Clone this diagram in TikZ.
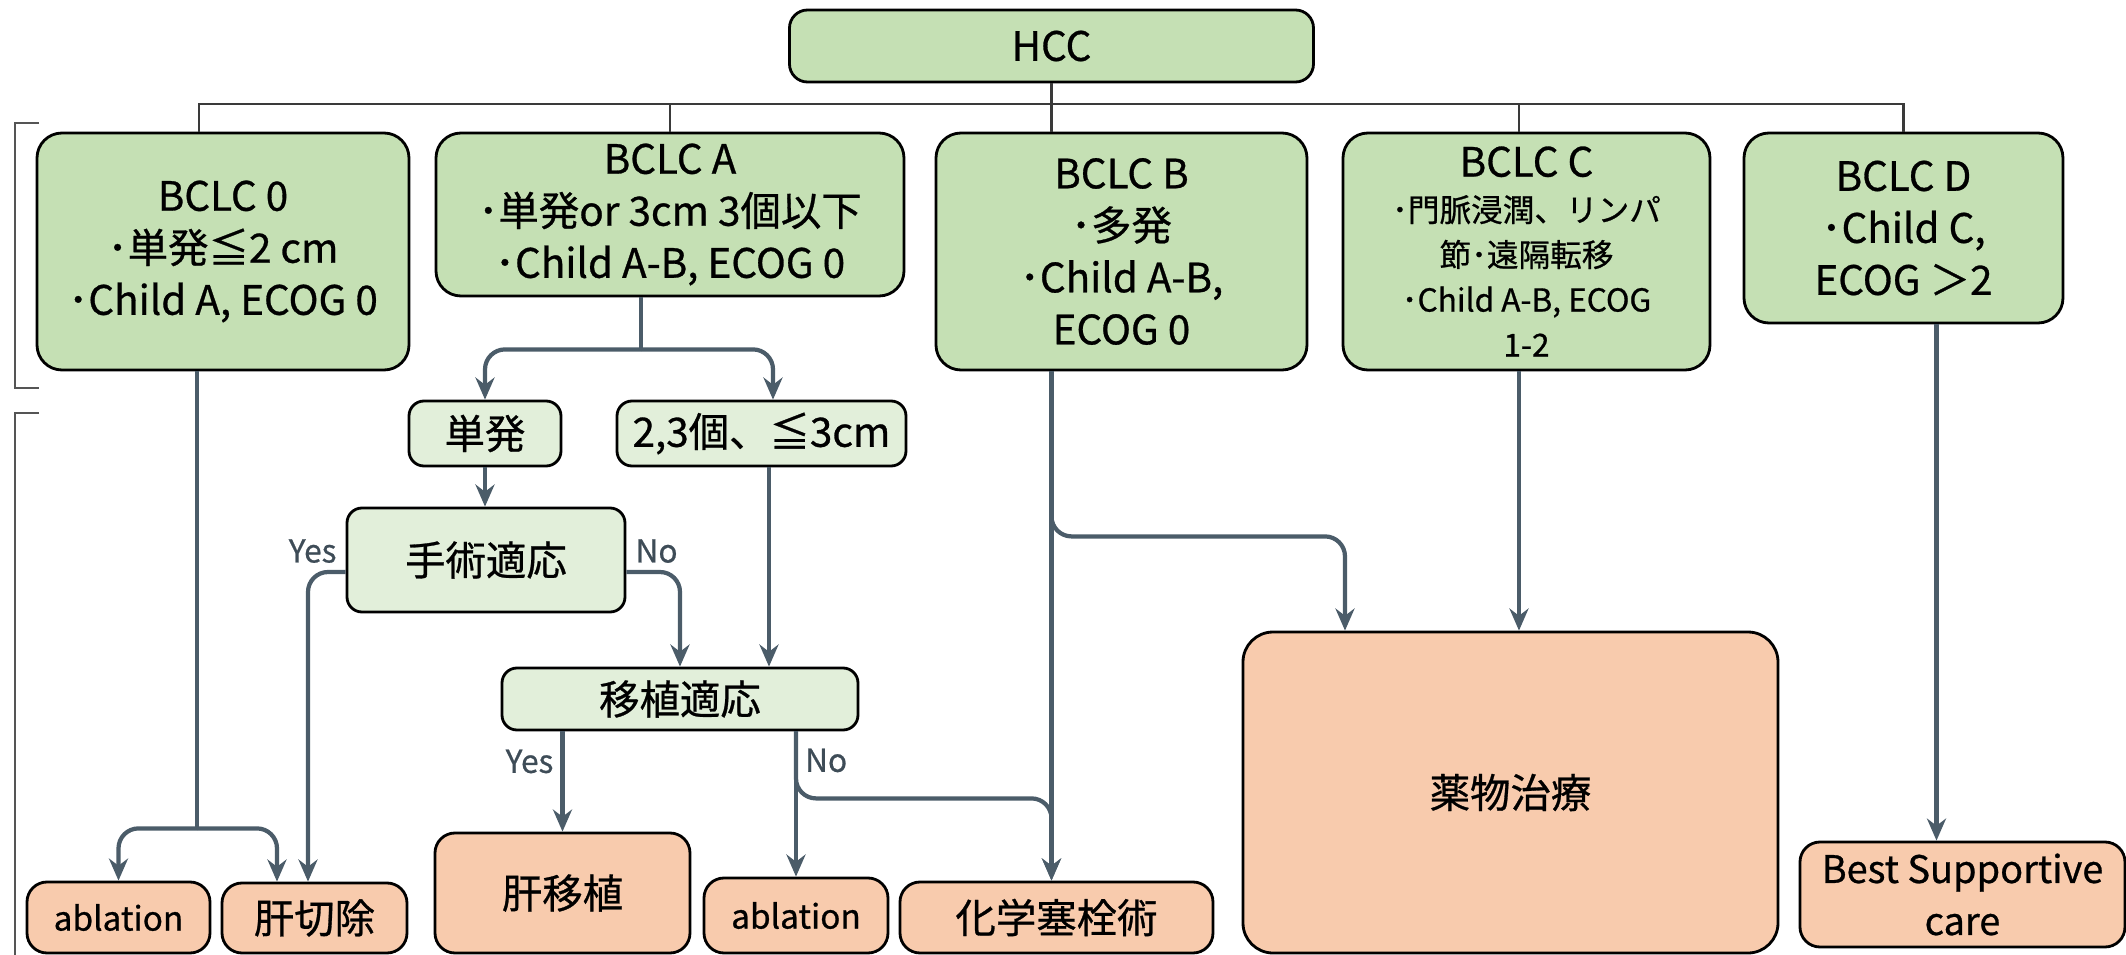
\documentclass[tikz,border=0pt]{standalone}
\usepackage{fontspec}
\setmainfont{Noto Sans CJK JP}[FakeBold=0.7]
\usepackage{tikz}
\usetikzlibrary{arrows.meta, calc, positioning}
\definecolor{stagegreen}{HTML}{C5E0B4}
\definecolor{subgreen}{HTML}{E2EFDA}
\definecolor{treatorange}{HTML}{F8CBAD}
\definecolor{flowgray}{HTML}{4B5C69}
\definecolor{busgray}{HTML}{3A3A3A}
\definecolor{lblgray}{HTML}{3E4C57}
\definecolor{brkgray}{HTML}{555555}
\newcommand{\mainsize}{\fontsize{11.5}{14.8}\selectfont}
\newcommand{\smallsize}{\fontsize{9}{12.8}\selectfont}

\begin{document}
\begin{tikzpicture}[every node/.style={align=center, font=\mainsize},
  stage/.style={draw, thick, rounded corners=2.5mm, fill=stagegreen, inner sep=0pt},
  sub/.style={draw, thick, rounded corners=1.5mm, fill=subgreen, inner sep=0pt},
  treat/.style={draw, thick, rounded corners=2mm, fill=treatorange, inner sep=0pt},
  bus/.style={draw=busgray, line width=0.7pt},
  trunk/.style={draw=flowgray, line width=1.2pt},
  flow/.style={draw=flowgray, line width=1.2pt, rounded corners=2mm, -{Stealth[length=2.2mm, width=1.9mm]}},
  lbl/.style={font=\fontsize{9}{10}\selectfont, text=lblgray, inner sep=2pt},
  brk/.style={draw=brkgray, line width=0.7pt}]
\useasboundingbox (0,0) rectangle (21.26,-9.55);
\node (hcc) [stage, rounded corners=1.8mm, minimum width=5.24cm, minimum height=0.72cm] at (10.515,-0.46) {HCC};
\node (b0) [stage, minimum width=3.72cm, minimum height=2.37cm] at (2.23,-2.515) {BCLC 0\\･単発≦2 cm\\･Child A, ECOG 0};
\node (bA) [stage, minimum width=4.68cm, minimum height=1.63cm] at (6.70,-2.145) {BCLC A\\･単発or 3cm 3個以下\\･Child A-B, ECOG 0};
\node (bB) [stage, minimum width=3.71cm, minimum height=2.37cm] at (11.215,-2.515) {BCLC B\\･多発\\･Child A-B,\\ECOG 0};
\node (bC) [stage, minimum width=3.67cm, minimum height=2.37cm, font=\smallsize] at (15.265,-2.515) {{\fontsize{11.5}{12.8}\selectfont BCLC C}\\･門脈浸潤、リンパ\\節･遠隔転移\\･Child A-B, ECOG\\1-2};
\node (bD) [stage, minimum width=3.19cm, minimum height=1.90cm] at (19.035,-2.28) {BCLC D\\･Child C,\\ECOG ＞2};
\node (single) [sub, minimum width=1.52cm, minimum height=0.65cm] at (4.85,-4.335) {単発};
\node (multi) [sub, minimum width=2.89cm, minimum height=0.65cm] at (7.615,-4.335) {2,3個、≦3cm};
\node (surg) [sub, minimum width=2.78cm, minimum height=1.04cm] at (4.86,-5.60) {手術適応};
\node (trans) [sub, minimum width=3.56cm, minimum height=0.62cm] at (6.80,-6.99) {移植適応};
\node (abl1) [treat, minimum width=1.83cm, minimum height=0.71cm, font=\fontsize{9.5}{11}\selectfont] at (1.185,-9.175) {ablation};
\node (resec) [treat, minimum width=1.85cm, minimum height=0.70cm] at (3.145,-9.18) {肝切除};
\node (lt) [treat, minimum width=2.55cm, minimum height=1.20cm] at (5.625,-8.93) {肝移植};
\node (abl2) [treat, minimum width=1.84cm, minimum height=0.75cm, font=\fontsize{9.5}{11}\selectfont] at (7.96,-9.155) {ablation};
\node (tace) [treat, minimum width=3.13cm, minimum height=0.71cm] at (10.565,-9.175) {化学塞栓術};
\node (drug) [treat, rounded corners=3mm, minimum width=5.35cm, minimum height=3.21cm] at (15.105,-7.925) {薬物治療};
\node (bsc) [treat, minimum width=3.25cm, minimum height=1.05cm, font=\fontsize{10.8}{14.8}\selectfont] at (19.625,-8.945) {Best Supportive\\care};
\coordinate (bus) at (0,-1.04);
\draw[bus] ([xshift=-2.4mm]b0.north) |- (bus -| bD.north) -- (bD.north);
\draw[bus] (hcc.south) -- (hcc.south |- bB.north);
\draw[bus] (bA.north) -- (bA.north |- bus);
\draw[bus] ([xshift=-0.75mm]bC.north) -- ([xshift=-0.75mm]bC.north |- bus);
\draw[brk] (0.39,-1.23) -- (0.15,-1.23) -- (0.15,-3.88) -- (0.39,-3.88);
\draw[brk] (0.39,-4.13) -- (0.15,-4.13) -- (0.15,-9.6);
\draw[trunk] ([xshift=-2.6mm]b0.south) -- ++(0,-4.57) coordinate (f0);
\draw[flow] (f0) -| (abl1.north);
\draw[flow] (f0) -| ([xshift=-3.75mm]resec.north);
\draw[trunk] ([xshift=-2.9mm]bA.south) -- ++(0,-0.52) coordinate (fA);
\draw[flow] (fA) -| (single.north);
\draw[flow] (fA) -| ([xshift=1.15mm]multi.north);
\draw[flow] (single.south) -- (single.south |- surg.north);
\draw[flow] ([yshift=-1.2mm]surg.west) node[lbl, above left] {Yes} -| ([xshift=-0.65mm]resec.north);
\draw[flow] ([yshift=-1.2mm]surg.east) node[lbl, above right] {No} -| (trans.north);
\draw[flow] ([xshift=0.75mm]multi.south) -- ([xshift=0.75mm]multi.south |- trans.north);
\draw[flow] (lt.north |- trans.south) -- node[lbl, left, pos=0.3] {Yes} (lt.north);
\draw[flow] (abl2.north |- trans.south) -- node[lbl, right, pos=0.2] {No} (abl2.north);
\draw[flow] (abl2.north |- trans.south) -- ++(0,-0.67) -| ([xshift=-0.5mm]tace.north);
\draw[flow] ([xshift=-7mm]bB.south) -- ([xshift=-7mm]bB.south |- tace.north);
\draw[flow] ([xshift=-7mm]bB.south) -- ++(0,-1.65) -| ([xshift=-16.55mm]drug.north);
\draw[flow] ([xshift=-0.75mm]bC.south) -- ([xshift=-0.75mm]bC.south |- drug.north);
\draw[flow] ([xshift=3.3mm]bD.south) -- ([xshift=3.3mm]bD.south |- bsc.north);
\end{tikzpicture}
\end{document}
